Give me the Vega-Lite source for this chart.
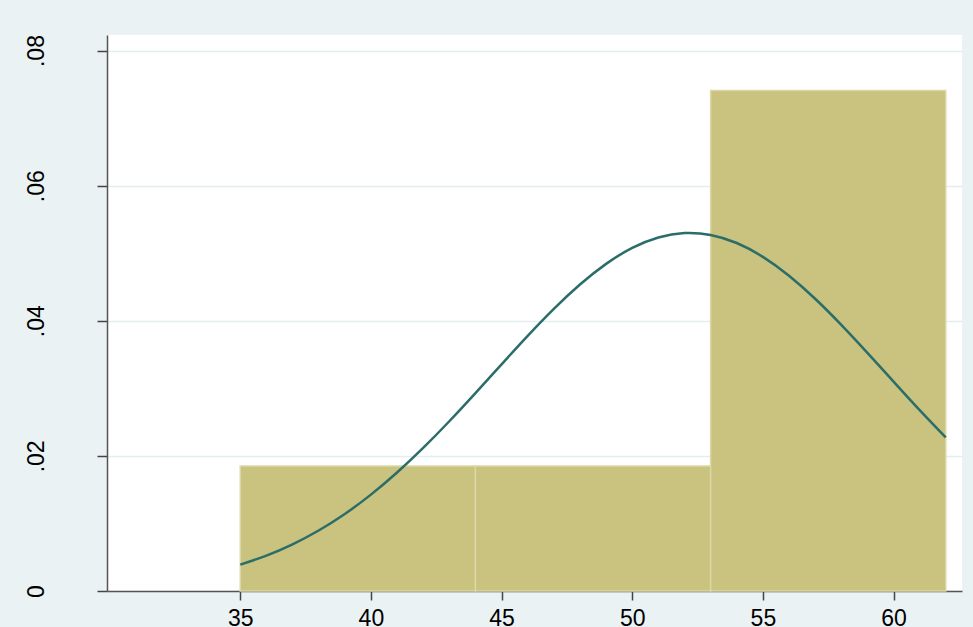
{
  "$schema": "https://vega.github.io/schema/vega-lite/v6.json",
  "width": 855,
  "height": 556,
  "autosize": {"type": "none"},
  "padding": {"left": 107, "top": 35, "right": 11, "bottom": 36},
  "background": "#eaf2f3",
  "config": {
    "view": {"stroke": null, "fill": "#ffffff"},
    "font": "Liberation Sans"
  },
  "datasets": {
    "bins": [
      {"start": 35, "end": 44, "density": 0.018519},
      {"start": 44, "end": 53, "density": 0.018519},
      {"start": 53, "end": 62, "density": 0.074074}
    ],
    "curve": [
      {"x": 35, "y": 0.003901}, {"x": 36, "y": 0.005239}, {"x": 37, "y": 0.006909},
      {"x": 38, "y": 0.008957}, {"x": 39, "y": 0.011402}, {"x": 40, "y": 0.014264},
      {"x": 41, "y": 0.017534}, {"x": 42, "y": 0.021173}, {"x": 43, "y": 0.025125},
      {"x": 44, "y": 0.029293}, {"x": 45, "y": 0.033555}, {"x": 46, "y": 0.037763},
      {"x": 47, "y": 0.041756}, {"x": 48, "y": 0.045363}, {"x": 49, "y": 0.048424},
      {"x": 50, "y": 0.050786}, {"x": 51, "y": 0.052331}, {"x": 52, "y": 0.052981},
      {"x": 53, "y": 0.052702}, {"x": 54, "y": 0.051508}, {"x": 55, "y": 0.049460},
      {"x": 56, "y": 0.046663}, {"x": 57, "y": 0.043255}, {"x": 58, "y": 0.039395},
      {"x": 59, "y": 0.035253}, {"x": 60, "y": 0.030993}, {"x": 61, "y": 0.026773},
      {"x": 62, "y": 0.022723}
    ]
  },
  "layer": [
    {
      "data": {"name": "bins"},
      "mark": {"type": "rect", "fill": "#cac27f", "stroke": "#dcd7a6", "strokeWidth": 1.5},
      "encoding": {
        "x": {
          "field": "start", "type": "quantitative",
          "scale": {"domain": [29.9, 62.62], "nice": false, "zero": false},
          "axis": {
            "values": [35, 40, 45, 50, 55, 60],
            "title": null,
            "grid": false,
            "domainColor": "#555555", "domainWidth": 1.5,
            "tickColor": "#444444", "tickWidth": 1.5, "tickSize": 9,
            "labelFontSize": 23, "labelColor": "#000000", "labelPadding": 25,
            "labelBaseline": "alphabetic",
            "labelFont": "Liberation Sans"
          }
        },
        "x2": {"field": "end"},
        "y": {
          "field": "density", "type": "quantitative",
          "scale": {"domain": [0, 0.0823], "nice": false},
          "axis": {
            "values": [0, 0.02, 0.04, 0.06, 0.08],
            "title": null,
            "grid": true, "gridColor": "#e4edf0", "gridWidth": 1.5,
            "domainColor": "#555555", "domainWidth": 1.5,
            "tickColor": "#444444", "tickWidth": 1.5, "tickSize": 10,
            "labelFontSize": 23, "labelColor": "#000000", "labelPadding": 54,
            "labelAngle": -90, "labelAlign": "center", "labelBaseline": "alphabetic",
            "labelFont": "Liberation Sans",
            "labelExpr": "datum.value == 0 ? '0' : replace(format(datum.value, '.2f'), '0.', '.')"
          }
        },
        "y2": {"datum": 0}
      }
    },
    {
      "data": {"name": "curve"},
      "mark": {"type": "line", "color": "#2b6e69", "strokeWidth": 2.5, "interpolate": "natural"},
      "encoding": {
        "x": {"field": "x", "type": "quantitative"},
        "y": {"field": "y", "type": "quantitative"}
      }
    }
  ]
}
